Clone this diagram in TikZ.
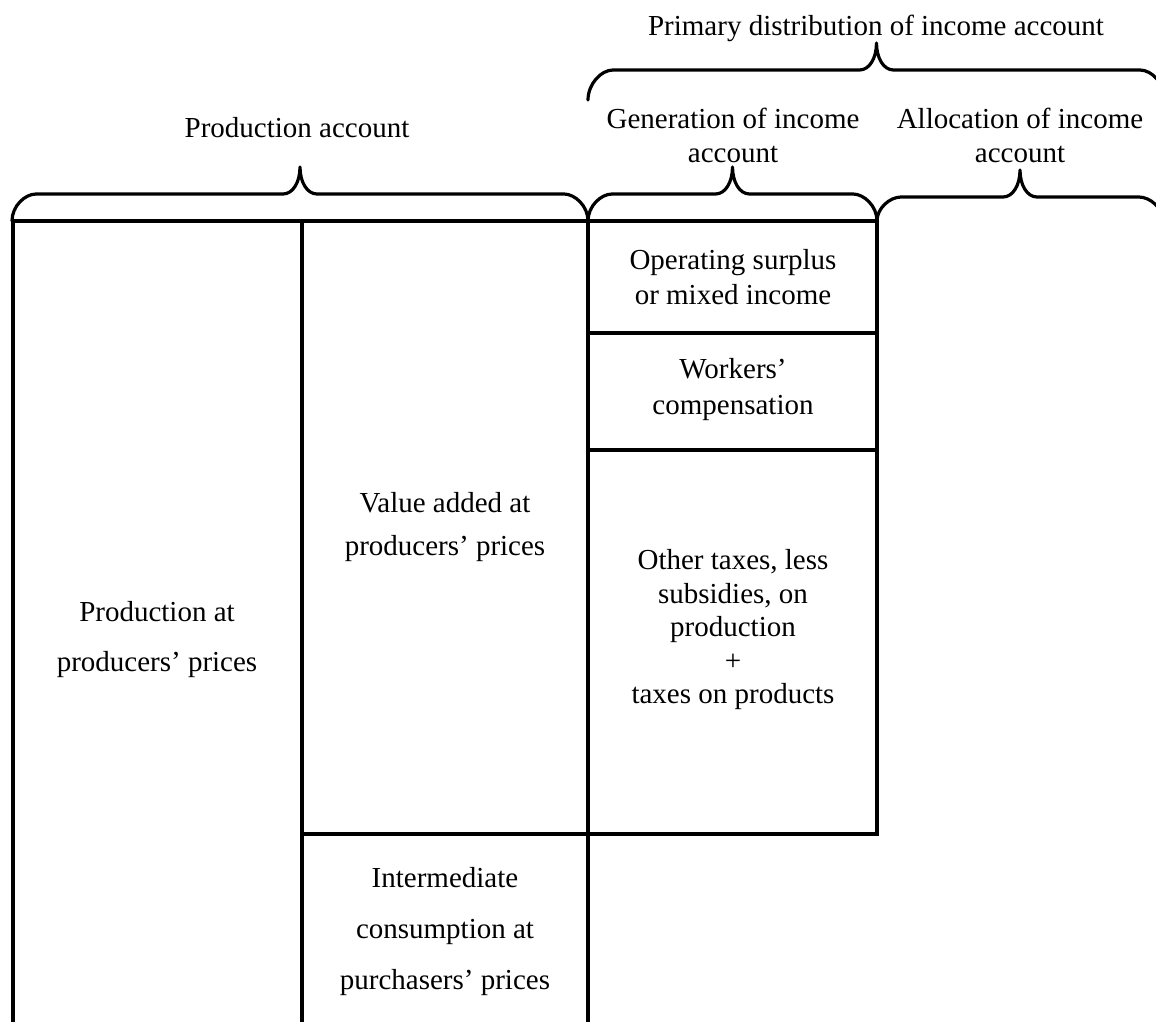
\documentclass[tikz,border=0pt]{standalone}
\usepackage{fontspec}
\setmainfont{Liberation Serif}
\begin{document}
\begin{tikzpicture}[x=1pt,y=-1pt,
  rule/.style={line width=3.2pt, line cap=rect},
  bracepath/.style={line width=3.2pt, line cap=round, line join=round},
  lbl/.style={align=center, inner sep=0pt, font=\fontsize{29}{35}\selectfont},
]
\useasboundingbox (0,0) rectangle (1156,1021);
\clip (0,0) rectangle (1156,1021);

% table rules
\draw[rule] (13,1030) -- (13,221) -- (877,221) -- (877,834) -- (302,834);
\draw[rule] (302,221) -- (302,1030);
\draw[rule] (588,221) -- (588,1030);
\draw[rule] (588,333) -- (877,333);
\draw[rule] (588,450) -- (877,450);

% braces
\draw[bracepath] (12,221) .. controls (12,206) and (25,194) .. (36,194) -- (283,194)
  .. controls (293,194) and (300,182) .. (300,167)
  .. controls (300,182) and (307,194) .. (317,194) -- (564,194)
  .. controls (575,194) and (588,206) .. (588,221);
\draw[bracepath] (588,221) .. controls (588,206) and (601,194) .. (612,194) -- (715.5,194)
  .. controls (725.5,194) and (732.5,182) .. (732.5,167)
  .. controls (732.5,182) and (739.5,194) .. (749.5,194) -- (853,194)
  .. controls (864,194) and (877,206) .. (877,221);
\draw[bracepath] (877,221) .. controls (877,208) and (890,197) .. (901,197) -- (1003,197)
  .. controls (1013,197) and (1020,185) .. (1020,170)
  .. controls (1020,185) and (1027,197) .. (1037,197) -- (1139,197)
  .. controls (1150,197) and (1163,208) .. (1163,221);
\draw[bracepath] (588,100) .. controls (588,84) and (601,70) .. (613,70) -- (859.5,70)
  .. controls (869.5,70) and (876.5,58) .. (876.5,43)
  .. controls (876.5,58) and (883.5,70) .. (893.5,70) -- (1140,70)
  .. controls (1152,70) and (1165,84) .. (1165,100);

% labels
\node[lbl] (primary) at (876,28) {Primary distribution of income account};
\node[lbl] (prodacc) at (297,128) {Production account};
\node[lbl, font=\fontsize{29}{34}\selectfont] (genacc) at (733,135) {Generation of income\\account};
\node[lbl, font=\fontsize{29}{34}\selectfont] (allacc) at (1020,135) {Allocation of income\\account};
\node[lbl] (opsur) at (733,277) {Operating surplus\\or mixed income};
\node[lbl, font=\fontsize{29}{36}\selectfont] (workers) at (733,390) {Workers’\\compensation};
\node[lbl, font=\fontsize{29}{43}\selectfont] (valadd) at (445,527) {Value added at\\producers’ prices};
\node[lbl, font=\fontsize{29}{33.5}\selectfont] (taxes) at (733,630) {Other taxes, less\\subsidies, on\\production\\+\\taxes on products};
\node[lbl, font=\fontsize{29}{50}\selectfont] (prodat) at (157,640) {Production at\\producers’ prices};
\node[lbl, font=\fontsize{29}{51}\selectfont] (interm) at (445,932) {Intermediate\\consumption at\\purchasers’ prices};
\end{tikzpicture}
\end{document}
